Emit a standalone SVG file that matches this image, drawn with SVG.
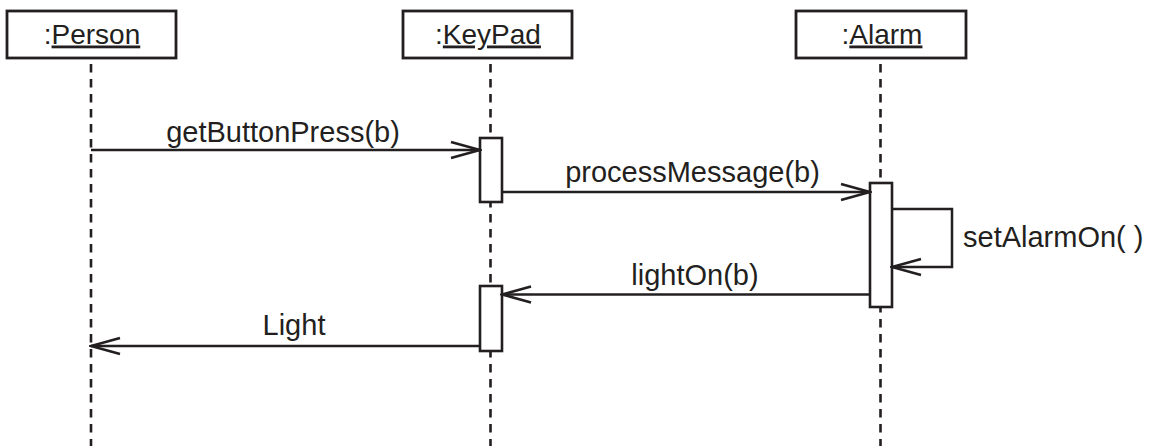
<svg xmlns="http://www.w3.org/2000/svg" width="1153" height="446" viewBox="0 0 1153 446">
<style>
  .box{fill:#fff;stroke:#231f20;stroke-width:2.8}
  .life{stroke:#231f20;stroke-width:2.6;stroke-dasharray:8.5 6.5;fill:none}
  .act{fill:#fff;stroke:#231f20;stroke-width:2.6}
  .msg{stroke:#231f20;stroke-width:2.5;fill:none;marker-end:url(#open)}
  .name{font-family:"Liberation Sans",Arial,sans-serif;font-size:28px;fill:#231f20;text-anchor:middle}
  .lbl{font-family:"Liberation Sans",Arial,sans-serif;font-size:29px;fill:#231f20}
  .u{text-decoration:underline}
</style>
<defs>
  <marker id="open" viewBox="0 0 32 20" refX="30" refY="10" markerWidth="32" markerHeight="20" markerUnits="userSpaceOnUse" orient="auto">
    <path d="M1,2 L30,10 L1,18" fill="none" stroke="#231f20" stroke-width="2.7" stroke-linejoin="miter"/>
  </marker>
</defs>
<rect width="1153" height="446" fill="#fff"/>
<g id="person">
  <line class="life" x1="91" y1="64" x2="91" y2="446"/>
  <rect class="box" x="7" y="11" width="169" height="47"/>
  <text class="name" x="92" y="43.5">:<tspan class="u">Person</tspan></text>
</g>
<g id="keypad">
  <line class="life" x1="490.5" y1="64" x2="490.5" y2="446"/>
  <rect class="box" x="403" y="11" width="169" height="47"/>
  <text class="name" x="488" y="43.5">:<tspan class="u">KeyPad</tspan></text>
  <rect class="act" x="480" y="138" width="22" height="64"/>
  <rect class="act" x="480" y="286" width="22" height="65"/>
</g>
<g id="alarm">
  <line class="life" x1="880.5" y1="64" x2="880.5" y2="446"/>
  <rect class="box" x="796" y="11" width="170" height="47"/>
  <text class="name" x="882" y="43.5">:<tspan class="u">Alarm</tspan></text>
  <rect class="act" x="870" y="183" width="22" height="124"/>
</g>
<g id="connectors">
  <line class="msg" x1="91" y1="150" x2="480" y2="150"/>
  <line class="msg" x1="502" y1="192" x2="870" y2="192"/>
  <polyline class="msg" points="892,209 952,209 952,267 892,267"/>
  <line class="msg" x1="870" y1="294.5" x2="502" y2="294.5"/>
  <line class="msg" x1="480" y1="346" x2="91" y2="346"/>
  <text class="lbl" x="283" y="142" text-anchor="middle">getButtonPress(b)</text>
  <text class="lbl" x="692.5" y="182" text-anchor="middle">processMessage(b)</text>
  <text class="lbl" x="963" y="247">setAlarmOn( )</text>
  <text class="lbl" x="695" y="285" text-anchor="middle">lightOn(b)</text>
  <text class="lbl" x="294" y="335" text-anchor="middle">Light</text>
</g>
</svg>
